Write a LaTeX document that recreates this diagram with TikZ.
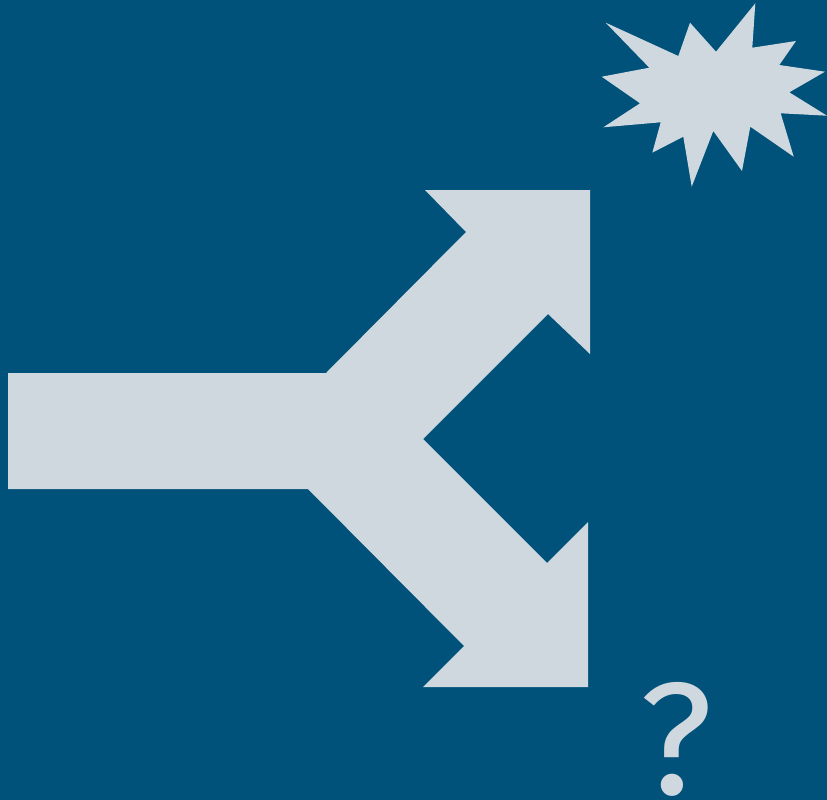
\documentclass[tikz,border=0pt]{standalone}
\usepackage{fontspec}
\newfontfamily\qfont{Fira Sans}
\definecolor{bgblue}{RGB}{0,82,122}
\definecolor{pale}{RGB}{207,216,222}
\begin{document}
\begin{tikzpicture}[x=1pt,y=-1pt,
  shapefill/.style={fill=pale,draw=none},
  qmark/.style={text=pale,font=\qfont\fontsize{160}{160}\selectfont,inner sep=0pt,anchor=base}]
\fill[bgblue] (0,0) rectangle (827,800);
\useasboundingbox (0,0) rectangle (827,800);
% split arrow
\path[shapefill] (8,373) -- (326,373) -- (466,232) -- (425,190) -- (590,190) -- (590,354)
  -- (548,314) -- (423,439) -- (547,563) -- (588,522) -- (588,687) -- (423,687)
  -- (464,646) -- (308,489) -- (8,489) -- cycle;
% starburst
\path[shapefill] (605.7,22.7) -- (678.3,56) -- (690,22.7) -- (716,51.7) -- (755.3,3.3)
  -- (752.3,47.7) -- (796,41) -- (779.3,65) -- (825,71.7) -- (789.3,92.3)
  -- (827,115.7) -- (780.7,113.3) -- (793.7,156.7) -- (750.3,126.7) -- (742,171)
  -- (713.3,131) -- (691.7,186.7) -- (683.3,136.7) -- (652.3,152.7) -- (660.7,122.3)
  -- (603.3,127.3) -- (640,103.3) -- (601.7,76.7) -- (649.3,67.7) -- cycle;
\node[qmark] (q) at (676,794) {?};
\end{tikzpicture}
\end{document}
